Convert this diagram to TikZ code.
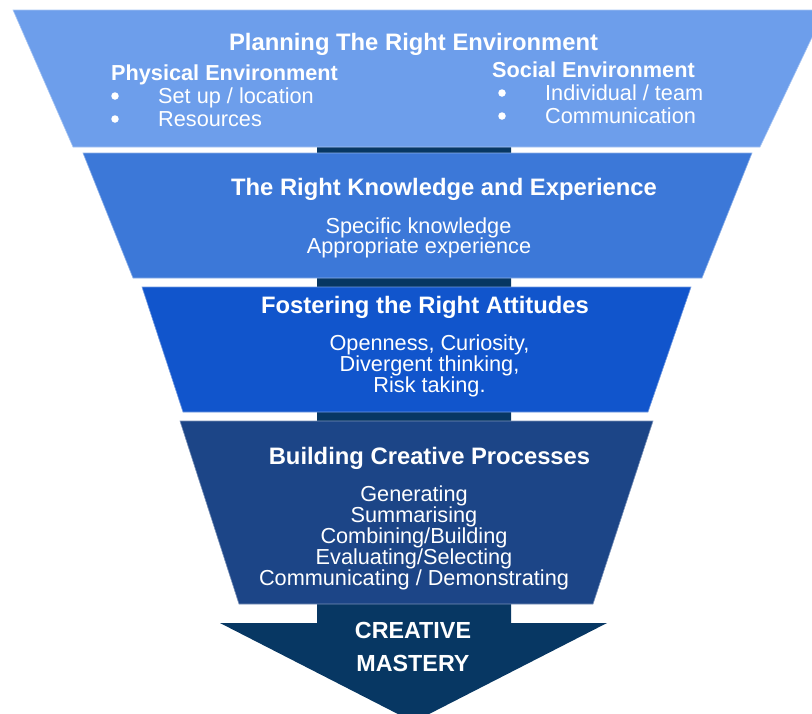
\documentclass[tikz,border=0pt]{standalone}
\usepackage{fontspec}
\setmainfont{Liberation Sans}
\definecolor{bandA}{HTML}{6D9EEB}
\definecolor{bandB}{HTML}{3C78D8}
\definecolor{bandC}{HTML}{1155CC}
\definecolor{bandD}{HTML}{1C4587}
\definecolor{mastery}{HTML}{073763}
\begin{document}
\begin{tikzpicture}[x=1pt,y=-1pt,
  band/.style={line width=0.6pt},
  titletext/.style={text=white,inner sep=0pt,anchor=base,font=\fontsize{23.8}{24}\selectfont\bfseries},
  subtext/.style={text=white,inner sep=0pt,anchor=base west,font=\fontsize{21.7}{21}\selectfont\bfseries},
  bodytext/.style={text=white,inner sep=0pt,anchor=base,font=\fontsize{21.7}{21}\selectfont},
  itemtext/.style={text=white,inner sep=0pt,anchor=base west,font=\fontsize{21.7}{21}\selectfont},
  bulletmark/.style={circle,fill=white,inner sep=0pt,minimum size=7.5pt},
  masterytext/.style={text=white,inner sep=0pt,anchor=base,font=\fontsize{23.3}{24}\selectfont\bfseries}]
\useasboundingbox (0,0) rectangle (812,713);
% central bar and arrow
\fill[mastery] (317,140) -- (511,140) -- (511,623) -- (607,623) -- (413.5,722) -- (220,623) -- (317,623) -- cycle;
% bands
\filldraw[band,fill=bandA,draw=bandA!60!white] (13,10) -- (825,10) -- (760,147) -- (73,147) -- cycle;
\filldraw[band,fill=bandB,draw=bandB!60!white] (83,153) -- (752,153) -- (702,278) -- (133,278) -- cycle;
\filldraw[band,fill=bandC,draw=bandC!60!white] (142,287) -- (691,287) -- (648,412) -- (183,412) -- cycle;
\filldraw[band,fill=bandD,draw=bandD!60!white] (180,421) -- (653,421) -- (593,604) -- (239,604) -- cycle;
% band 1 text
\node[titletext] (t1) at (413.5,50.5) {Planning The Right Environment};
\node[subtext] (phys) at (111,80) {Physical Environment};
\node[bulletmark] (b1) at (115,96) {};
\node[itemtext] (i1) at (158,103) {Set up / location};
\node[bulletmark] (b2) at (115,119) {};
\node[itemtext] (i2) at (158,126) {Resources};
\node[subtext] (soc) at (492,77) {Social Environment};
\node[bulletmark] (b3) at (502,93) {};
\node[itemtext] (i3) at (545,100) {Individual / team};
\node[bulletmark] (b4) at (502,116) {};
\node[itemtext] (i4) at (545,123) {Communication};
% band 2 text
\node[titletext] (t2) at (444,195.5) {The Right Knowledge and Experience};
\node[bodytext] (k1) at (418.5,233) {Specific knowledge};
\node[bodytext] (k2) at (419,253) {Appropriate experience};
% band 3 text
\node[titletext] (t3) at (425,313.5) {Fostering the Right Attitudes};
\node[bodytext] (a1) at (429.5,350) {Openness, Curiosity,};
\node[bodytext] (a2) at (429.5,371) {Divergent thinking,};
\node[bodytext] (a3) at (429.5,392) {Risk taking.};
% band 4 text
\node[titletext] (t4) at (429.5,464.5) {Building Creative Processes};
\node[bodytext] (p1) at (414,501) {Generating};
\node[bodytext] (p2) at (414,522) {Summarising};
\node[bodytext] (p3) at (414,543) {Combining/Building};
\node[bodytext] (p4) at (414,564) {Evaluating/Selecting};
\node[bodytext] (p5) at (414,585) {Communicating / Demonstrating};
% arrow text
\node[masterytext] (m1) at (413,638.3) {CREATIVE};
\node[masterytext] (m2) at (413,671) {MASTERY};
\end{tikzpicture}
\end{document}
